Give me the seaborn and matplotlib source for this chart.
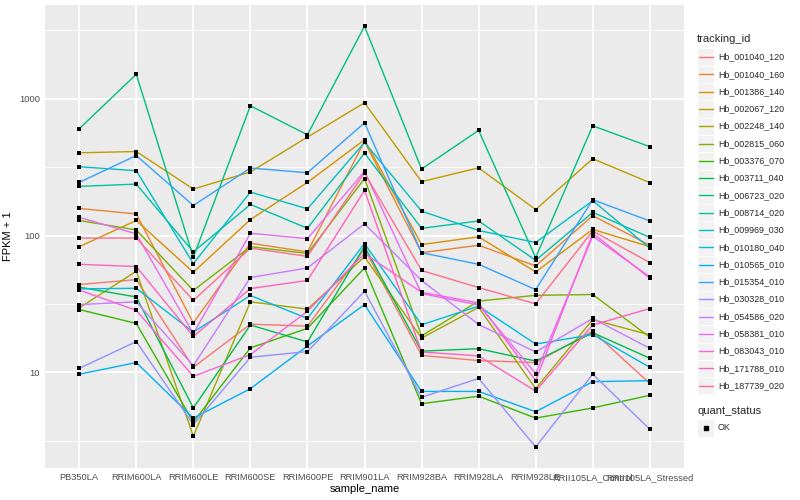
import numpy as np
import pandas as pd
import matplotlib
matplotlib.use("Agg")
import matplotlib.pyplot as plt
import seaborn as sns
from matplotlib.patches import Rectangle
from matplotlib.lines import Line2D

samples = ["PB350LA", "RRIM600LA", "RRIM600LE", "RRIM600SE", "RRIM600PE",
           "RRIM901LA", "RRIM928BA", "RRIM928LA", "RRIM928LE",
           "RRII105LA_Control", "RRII105LA_Stressed"]

tracking_ids = ["Hb_001040_120", "Hb_001040_160", "Hb_001386_140", "Hb_002067_120",
                "Hb_002248_140", "Hb_002815_060", "Hb_003376_070", "Hb_003711_040",
                "Hb_006723_020", "Hb_008714_020", "Hb_009969_030", "Hb_010180_040",
                "Hb_010565_010", "Hb_015354_010", "Hb_030328_010", "Hb_054586_020",
                "Hb_058381_010", "Hb_083043_010", "Hb_171788_010", "Hb_187739_020"]

# FPKM + 1 per sample (same order as samples)
hb_001040_120 = [43.9, 47.7, 10.9, 22.5, 21.8, 80, 13.3, 12.2, 11.8, 20.0, 8.3]
hb_001040_160 = [158, 144, 23.0, 88, 76, 488, 75, 85, 60, 140, 85]
hb_001386_140 = [83, 129, 54, 131, 245, 502, 86, 98, 54.3, 111, 83]
hb_002067_120 = [403, 412, 219, 292, 525, 935, 248, 313, 155, 365, 244]
hb_002248_140 = [29.6, 54.9, 3.41, 32.8, 29, 70, 17.8, 29.9, 7.6, 24.3, 18.8]
hb_002815_060 = [129, 110, 39.7, 83, 74, 261, 18.5, 33.2, 36.6, 37.1, 18.1]
hb_003376_070 = [28.8, 22.8, 4.33, 15.1, 21, 58, 5.9, 6.7, 4.63, 5.5, 6.8]
hb_003711_040 = [42, 35.6, 5.5, 22.2, 16.7, 83.5, 14.3, 14.9, 12.1, 19.5, 12.7]
hb_006723_020 = [604, 1513, 69.5, 889, 546, 3395, 307, 588, 69, 635, 447]
hb_008714_020 = [229, 238, 76, 169, 113, 401, 113, 128, 66, 148, 97]
hb_009969_030 = [319, 298, 62.5, 208, 157, 480, 151, 109, 89, 180, 81]
hb_010180_040 = [40.8, 41.2, 19.7, 36.5, 24.8, 87.5, 22.3, 30.5, 16.1, 18.9, 10.9]
hb_010565_010 = [9.7, 11.8, 4.63, 7.6, 15.6, 31.3, 7.26, 7.26, 5.16, 8.55, 8.7]
hb_015354_010 = [245, 385, 166, 312, 288, 668, 75, 61.7, 40.3, 183, 128]
hb_030328_010 = [10.7, 16.8, 4.15, 12.9, 14.2, 39.2, 6.57, 9.04, 2.85, 9.7, 3.84]
hb_054586_020 = [31.3, 32.8, 11.2, 49.4, 58, 122, 47, 22.4, 14.1, 24.8, 15]
hb_058381_010 = [136, 103, 19.2, 104, 95, 295, 37.7, 31.1, 9.8, 99, 49.9]
hb_083043_010 = [40, 28.4, 9.35, 13.5, 28, 74, 38.5, 32.2, 8.7, 104, 48.8]
hb_171788_010 = [61.7, 59.4, 18.3, 41, 47, 214, 14.1, 13.2, 7.3, 22.2, 29.3]
hb_187739_020 = [96, 96, 33.6, 81, 70.5, 287, 55.6, 41.7, 31.7, 108, 63.5]

series = [hb_001040_120, hb_001040_160, hb_001386_140, hb_002067_120, hb_002248_140,
          hb_002815_060, hb_003376_070, hb_003711_040, hb_006723_020, hb_008714_020,
          hb_009969_030, hb_010180_040, hb_010565_010, hb_015354_010, hb_030328_010,
          hb_054586_020, hb_058381_010, hb_083043_010, hb_171788_010, hb_187739_020]

colors = ["#F8766D", "#EA8331", "#D89000", "#C09B00", "#A3A500", "#7CAE00", "#39B600",
          "#00BB4E", "#00BF7D", "#00C1A3", "#00BFC4", "#00BAE0", "#00B0F6", "#35A2FF",
          "#9590FF", "#C77CFF", "#E76BF3", "#FA62DB", "#FF62BC", "#FF6C90"]

rows = []
for tid, vals in zip(tracking_ids, series):
    for s, v in zip(samples, vals):
        rows.append({"tracking_id": tid, "sample_name": s, "fpkm": v, "quant_status": "OK"})
df = pd.DataFrame(rows)
df["sample_name"] = pd.Categorical(df["sample_name"], categories=samples, ordered=True)

sns.set_theme(style="darkgrid")
plt.rcParams["font.family"] = ["Liberation Sans", "DejaVu Sans"]

W, H = 800, 500
fig = plt.figure(figsize=(8, 5), dpi=100)
ax = fig.add_axes([45 / W, 1 - 468 / H, (684 - 45) / W, (468 - 5) / H])
ax.set_facecolor("#EBEBEB")

sns.lineplot(data=df, x="sample_name", y="fpkm", hue="tracking_id",
             hue_order=tracking_ids, palette=colors, estimator=None,
             units="tracking_id", sort=False, lw=1.0, ax=ax, legend=False)
sns.scatterplot(data=df, x="sample_name", y="fpkm", color="black", s=9,
                marker="s", linewidth=0, ax=ax, legend=False, zorder=5)

ax.set_yscale("log")
ax.set_ylim(10 ** 0.301, 10 ** 3.686)
ax.set_xlim(-0.6, len(samples) - 1 + 0.6)
ax.set_yticks([10, 100, 1000])
ax.set_yticklabels(["10", "100", "1000"])
ax.set_yticks([10 ** 0.5, 10 ** 1.5, 10 ** 2.5, 10 ** 3.5], minor=True)
ax.set_xticks(range(len(samples)))
ax.set_xticklabels(samples)
ax.grid(which="major", color="white", lw=1.3)
ax.grid(which="minor", axis="y", color="white", lw=0.6)
ax.grid(which="minor", axis="x", visible=False)
ax.set_axisbelow(True)
for sp in ax.spines.values():
    sp.set_visible(False)
ax.tick_params(axis="both", which="major", length=2.2, width=0.7, color="#333333",
               labelsize=6.7, labelcolor="#4D4D4D", pad=1.5)
ax.tick_params(axis="both", which="minor", length=0)
ax.set_xlabel("sample_name", fontsize=8, color="black", labelpad=1.5)
ax.set_ylabel("FPKM + 1", fontsize=8, color="black", labelpad=4)

# legend (ggplot style) drawn in pixel coordinates
lax = fig.add_axes([0, 0, 1, 1])
lax.set_xlim(0, W)
lax.set_ylim(H, 0)
lax.axis("off")
lax.text(697, 39, "tracking_id", fontsize=8, va="center", ha="left")
for i, (tid, c) in enumerate(zip(tracking_ids, colors)):
    yc = 57 + 17.3 * i
    lax.add_patch(Rectangle((697, yc - 8.6), 17.3, 17.3, facecolor="#F2F2F2",
                            edgecolor="white", lw=0.8))
    lax.add_line(Line2D([698.5, 712.5], [yc, yc], color=c, lw=1.0))
    lax.text(718, yc, tid, fontsize=6.4, va="center", ha="left")
lax.text(697, 411, "quant_status", fontsize=8, va="center", ha="left")
lax.add_patch(Rectangle((697, 428 - 8.6), 17.3, 17.3, facecolor="#F2F2F2",
                        edgecolor="white", lw=0.8))
lax.add_line(Line2D([705.6], [428], marker="s", color="black", markersize=2.8, lw=0))
lax.text(718, 428, "OK", fontsize=6.4, va="center", ha="left")

fig.savefig("out.png", dpi=100, facecolor="white")
